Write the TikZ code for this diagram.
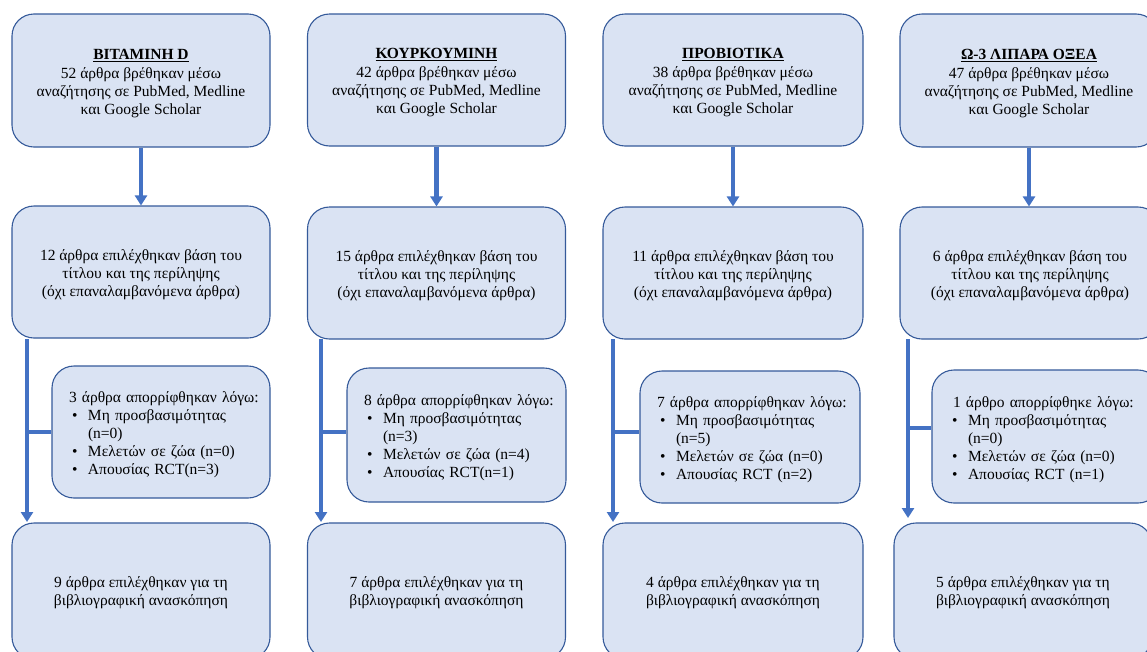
\documentclass[tikz,border=0pt]{standalone}
\usepackage{fontspec}
\setmainfont{Liberation Serif}
\usetikzlibrary{arrows.meta}
\definecolor{boxfill}{HTML}{DAE3F3}
\definecolor{boxline}{HTML}{355A9A}
\definecolor{arrowc}{HTML}{4472C4}
\newcommand{\itm}[1]{\mbox{\makebox[19pt][l]{\hspace{3pt}•}#1}}
\newcommand{\cnt}[1]{\mbox{\hspace{19pt}#1}}
\newcommand{\tstrut}{\rule{0pt}{16pt}}
\begin{document}
\begin{tikzpicture}[x=1pt,y=-1pt,
  box/.style={draw=boxline, line width=1.1pt, fill=boxfill, rounded corners=22pt,
    align=center, font=\fontsize{15.5}{18}\selectfont, inner sep=0pt},
  wide/.style={box, minimum width=258pt},
  excl/.style={box, align=left, inner xsep=17pt, inner ysep=0pt},
  conn/.style={draw=arrowc, line width=4.5pt, -{Triangle[width=12pt,length=10pt]}},
  branch/.style={draw=arrowc, line width=4.5pt}]
\clip (0,0) rectangle (1147,651);
\fill[white] (0,0) rectangle (1147,651);

% ---------- column 1 ----------
\node[wide, minimum height=133pt] (t1) at (141,80.5)
  {\tstrut\underline{\textbf{ΒΙΤΑΜΙΝΗ D}}\\[1pt]52 άρθρα βρέθηκαν μέσω\\αναζήτησης σε PubMed, Medline\\και Google Scholar};
\node[wide, minimum height=132pt] (m1) at (141,272)
  {\rule{0pt}{17pt}12 άρθρα επιλέχθηκαν βάση του\\τίτλου και της περίληψης\\(όχι επαναλαμβανόμενα άρθρα)};
\node[excl, text width=184pt, minimum height=132pt] (e1) at (161,432)
  {\mbox{\rule{0pt}{17pt}3 άρθρα απορρίφθηκαν λόγω:}\\\itm{Μη προσβασιμότητας}\\\cnt{(n=0)}\\\itm{Μελετών σε ζώα (n=0)}\\\itm{Απουσίας RCT(n=3)}};
\node[wide, minimum height=136pt] (b1) at (141,591)
  {\rule{0pt}{15pt}9 άρθρα επιλέχθηκαν για τη\\βιβλιογραφική ανασκόπηση};
\coordinate (l1a) at (27,339);
\coordinate (l1b) at (27,522);
\draw[conn] (t1.south) -- (t1.south |- m1.north);
\draw[conn] (l1a) -- (l1b);
\draw[branch] (l1a |- e1.west) -- (e1.west);

% ---------- column 2 ----------
\node[wide, minimum height=132pt] (t2) at (436.5,80)
  {\tstrut\underline{\textbf{ΚΟΥΡΚΟΥΜΙΝΗ}}\\[1pt]42 άρθρα βρέθηκαν μέσω\\αναζήτησης σε PubMed, Medline\\και Google Scholar};
\node[wide, minimum height=132pt] (m2) at (436.5,273)
  {\rule{0pt}{17pt}15 άρθρα επιλέχθηκαν βάση του\\τίτλου και της περίληψης\\(όχι επαναλαμβανόμενα άρθρα)};
\node[excl, text width=185pt, minimum height=134pt] (e2) at (456.5,435)
  {\mbox{\rule{0pt}{17pt}8 άρθρα απορρίφθηκαν λόγω:}\\\itm{Μη προσβασιμότητας}\\\cnt{(n=3)}\\\itm{Μελετών σε ζώα (n=4)}\\\itm{Απουσίας RCT(n=1)}};
\node[wide, minimum height=136pt] (b2) at (436.5,591)
  {\rule{0pt}{15pt}7 άρθρα επιλέχθηκαν για τη\\βιβλιογραφική ανασκόπηση};
\coordinate (l2a) at (321,339);
\coordinate (l2b) at (321,522);
\draw[conn] (t2.south) -- (t2.south |- m2.north);
\draw[conn] (l2a) -- (l2b);
\draw[branch] (l2a |- 0,432) -- (e2.west |- 0,432);

% ---------- column 3 ----------
\node[wide, minimum width=260pt, minimum height=132pt] (t3) at (733,80)
  {\tstrut\underline{\textbf{ΠΡΟΒΙΟΤΙΚΑ}}\\[1pt]38 άρθρα βρέθηκαν μέσω\\αναζήτησης σε PubMed, Medline\\και Google Scholar};
\node[wide, minimum width=260pt, minimum height=132pt] (m3) at (733,273)
  {\rule{0pt}{17pt}11 άρθρα επιλέχθηκαν βάση του\\τίτλου και της περίληψης\\(όχι επαναλαμβανόμενα άρθρα)};
\node[excl, text width=186pt, minimum height=132pt] (e3) at (750,437)
  {\mbox{\rule{0pt}{17pt}7 άρθρα απορρίφθηκαν λόγω:}\\\itm{Μη προσβασιμότητας}\\\cnt{(n=5)}\\\itm{Μελετών σε ζώα (n=0)}\\\itm{Απουσίας RCT (n=2)}};
\node[wide, minimum width=260pt, minimum height=136pt] (b3) at (733,591)
  {\rule{0pt}{15pt}4 άρθρα επιλέχθηκαν για τη\\βιβλιογραφική ανασκόπηση};
\coordinate (l3a) at (613,339);
\coordinate (l3b) at (613,522);
\draw[conn] (t3.south) -- (t3.south |- m3.north);
\draw[conn] (l3a) -- (l3b);
\draw[branch] (l3a |- 0,432) -- (e3.west |- 0,432);

% ---------- column 4 ----------
\node[wide, minimum height=133pt] (t4) at (1029,80.5)
  {\tstrut\underline{\textbf{Ω-3 ΛΙΠΑΡΑ ΟΞΕΑ}}\\[1pt]47 άρθρα βρέθηκαν μέσω\\αναζήτησης σε PubMed, Medline\\και Google Scholar};
\node[wide, minimum width=260pt, minimum height=132pt] (m4) at (1030,273)
  {\rule{0pt}{17pt}6 άρθρα επιλέχθηκαν βάση του\\τίτλου και της περίληψης\\(όχι επαναλαμβανόμενα άρθρα)};
\node[excl, text width=194pt, minimum height=133pt] (e4) at (1046,436.5)
  {\mbox{\rule{0pt}{17pt}\hspace{4pt}1 άρθρο απορρίφθηκε λόγω:}\\\itm{Μη προσβασιμότητας}\\\cnt{(n=0)}\\\itm{Μελετών σε ζώα (n=0)}\\\itm{Απουσίας RCT (n=1)}};
\node[wide, minimum height=136pt] (b4) at (1023,591)
  {\rule{0pt}{15pt}5 άρθρα επιλέχθηκαν για τη\\βιβλιογραφική ανασκόπηση};
\coordinate (l4a) at (908,339);
\coordinate (l4b) at (908,518);
\draw[conn] (t4.south) -- (t4.south |- m4.north);
\draw[conn] (l4a) -- (l4b);
\draw[branch] (l4a |- 0,428) -- (e4.west |- 0,428);
\end{tikzpicture}
\end{document}
